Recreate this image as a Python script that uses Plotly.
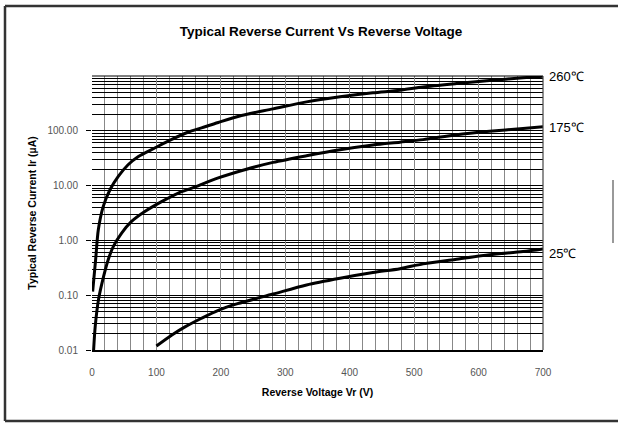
import math
import plotly.graph_objects as go

# ---- data ----
v_260 = [1, 5.6, 9.8, 17.5, 27.9, 40.8, 56, 72, 98, 123, 149, 170, 196, 232, 281, 333, 385, 436, 478, 514, 566, 617, 669, 700]
i_260 = [0.116, 0.44, 1.56, 4.17, 8.4, 14.7, 24, 34, 49, 69, 94, 113, 142, 190, 251, 337, 417, 493, 550, 632, 729, 828, 927, 990]

v_175 = [2.5, 5, 10, 18, 25, 33, 46, 61, 82, 108, 134, 155, 196, 237, 281, 333, 385, 436, 478, 514, 566, 617, 669, 700]
i_175 = [0.01, 0.027, 0.082, 0.22, 0.44, 0.77, 1.36, 2.2, 3.37, 5.1, 7.3, 9.0, 13.8, 19.5, 26.5, 35, 45, 55, 62, 69, 85, 98, 110, 118]

v_25 = [100, 124, 145, 170, 196, 226, 281, 333, 385, 436, 478, 514, 566, 617, 669, 700]
i_25 = [0.0118, 0.0188, 0.0267, 0.038, 0.053, 0.07, 0.105, 0.154, 0.204, 0.259, 0.305, 0.373, 0.455, 0.546, 0.627, 0.70]

series_names = ["260\u2103", "175\u2103", "25\u2103"]
y_tickvals = [0.01, 0.1, 1, 10, 100]
y_ticktext = ["0.01", "0.10", "1.00", "10.00", "100.00"]
x_tickvals = [0, 100, 200, 300, 400, 500, 600, 700]

FONT = "Liberation Sans, Arial, sans-serif"

fig = go.Figure()
for vx, iy, nm in [(v_260, i_260, series_names[0]), (v_175, i_175, series_names[1]), (v_25, i_25, series_names[2])]:
    fig.add_trace(go.Scatter(x=vx, y=iy, mode="lines", name=nm,
                             line=dict(color="black", width=3, shape="spline", smoothing=0.8),
                             showlegend=False, hoverinfo="skip"))

for vx, iy, nm, ys in [(v_260, i_260, series_names[0], 0), (v_175, i_175, series_names[1], -1), (v_25, i_25, series_names[2], -5)]:
    fig.add_annotation(x=vx[-1], y=math.log10(iy[-1]), text=nm, showarrow=False,
                       xanchor="left", yanchor="middle", xshift=4, yshift=ys,
                       font=dict(family=FONT, size=13, color="black"))

L, R, T, B = 92, 75, 76, 73
W, H = 618, 423
pw, ph = W - L - R, H - T - B

def px(x):
    return (x - L) / pw

def py(y):
    return (H - B - y) / ph

frame = dict(color="#333333", width=2.5)
fig.add_shape(type="line", xref="paper", yref="paper", x0=px(5), x1=px(618), y0=py(6), y1=py(6), line=frame)
fig.add_shape(type="line", xref="paper", yref="paper", x0=px(5), x1=px(5), y0=py(6), y1=py(421), line=frame)
fig.add_shape(type="line", xref="paper", yref="paper", x0=px(5), x1=px(618), y0=py(421), y1=py(421), line=frame)
fig.add_shape(type="line", xref="paper", yref="paper", x0=px(613), x1=px(613), y0=py(180), y1=py(243),
              line=dict(color="#777777", width=1.5))

fig.update_layout(
    width=W, height=H,
    margin=dict(l=L, r=R, t=T, b=B, autoexpand=False),
    paper_bgcolor="white", plot_bgcolor="white",
    title=dict(text="<b>Typical Reverse Current Vs Reverse Voltage</b>",
               x=321 / W, xanchor="center", y=1 - 31 / H, yanchor="middle",
               xref="container", yref="container",
               font=dict(family=FONT, size=13.5, color="black")),
    font=dict(family=FONT),
)

fig.update_xaxes(
    range=[0, 700], tickvals=x_tickvals, ticks="", showgrid=True, gridcolor="#888888", gridwidth=1,
    minor=dict(dtick=20, showgrid=True, gridcolor="#888888", gridwidth=1, ticks=""),
    zeroline=False, showline=True, linecolor="black", linewidth=1.5, mirror=False,
    automargin=False,
    tickfont=dict(family=FONT, size=10, color="#555555"), ticklabelstandoff=12,
    title=dict(text="<b>Reverse Voltage Vr (V)</b>", font=dict(family=FONT, size=10.5, color="black"), standoff=12),
)
fig.update_yaxes(
    type="log", range=[-2, 3], tickvals=y_tickvals, ticktext=y_ticktext,
    ticks="outside", ticklen=5, tickcolor="black", tickwidth=1,
    showgrid=True, gridcolor="black", gridwidth=1,
    minor=dict(dtick="D1", showgrid=True, gridcolor="black", gridwidth=1, ticks=""),
    zeroline=False, showline=False, automargin=False,
    tickfont=dict(family=FONT, size=10, color="#555555"), ticklabelstandoff=6,
    title=dict(text="<b>Typical Reverse Current Ir (\u00b5A)</b>", font=dict(family=FONT, size=10.5, color="black"), standoff=8),
)
fig.add_shape(type="line", xref="paper", yref="paper", x0=0, x1=1, y0=1, y1=1, line=dict(color="black", width=1))
fig.add_shape(type="line", xref="paper", yref="paper", x0=1, x1=1, y0=0, y1=1, line=dict(color="#444444", width=1.2))

fig.write_html("out.html", config={"displayModeBar": False},
               post_script="document.body.style.margin='0';document.body.style.overflow='hidden';")
